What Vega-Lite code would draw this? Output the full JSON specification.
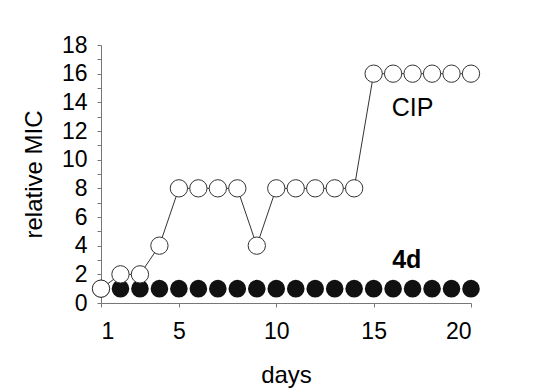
{
  "$schema": "https://vega.github.io/schema/vega-lite/v6.json",
  "width": 370,
  "height": 258,
  "autosize": {"type": "none"},
  "padding": {"left": 101, "top": 45, "right": 71, "bottom": 89},
  "background": "white",
  "config": {
    "view": {"stroke": null},
    "axis": {
      "grid": false,
      "labelFont": "Liberation Sans",
      "titleFont": "Liberation Sans",
      "labelFontSize": 23,
      "titleFontSize": 24,
      "titleFontWeight": "normal",
      "labelColor": "#000",
      "titleColor": "#000",
      "domainColor": "#777",
      "tickColor": "#777",
      "tickSize": 4
    }
  },
  "datasets": {
    "series": [
      {"day": 1, "mic": 1, "series": "4d"},
      {"day": 2, "mic": 1, "series": "4d"},
      {"day": 3, "mic": 1, "series": "4d"},
      {"day": 4, "mic": 1, "series": "4d"},
      {"day": 5, "mic": 1, "series": "4d"},
      {"day": 6, "mic": 1, "series": "4d"},
      {"day": 7, "mic": 1, "series": "4d"},
      {"day": 8, "mic": 1, "series": "4d"},
      {"day": 9, "mic": 1, "series": "4d"},
      {"day": 10, "mic": 1, "series": "4d"},
      {"day": 11, "mic": 1, "series": "4d"},
      {"day": 12, "mic": 1, "series": "4d"},
      {"day": 13, "mic": 1, "series": "4d"},
      {"day": 14, "mic": 1, "series": "4d"},
      {"day": 15, "mic": 1, "series": "4d"},
      {"day": 16, "mic": 1, "series": "4d"},
      {"day": 17, "mic": 1, "series": "4d"},
      {"day": 18, "mic": 1, "series": "4d"},
      {"day": 19, "mic": 1, "series": "4d"},
      {"day": 20, "mic": 1, "series": "4d"},
      {"day": 1, "mic": 1, "series": "CIP"},
      {"day": 2, "mic": 2, "series": "CIP"},
      {"day": 3, "mic": 2, "series": "CIP"},
      {"day": 4, "mic": 4, "series": "CIP"},
      {"day": 5, "mic": 8, "series": "CIP"},
      {"day": 6, "mic": 8, "series": "CIP"},
      {"day": 7, "mic": 8, "series": "CIP"},
      {"day": 8, "mic": 8, "series": "CIP"},
      {"day": 9, "mic": 4, "series": "CIP"},
      {"day": 10, "mic": 8, "series": "CIP"},
      {"day": 11, "mic": 8, "series": "CIP"},
      {"day": 12, "mic": 8, "series": "CIP"},
      {"day": 13, "mic": 8, "series": "CIP"},
      {"day": 14, "mic": 8, "series": "CIP"},
      {"day": 15, "mic": 16, "series": "CIP"},
      {"day": 16, "mic": 16, "series": "CIP"},
      {"day": 17, "mic": 16, "series": "CIP"},
      {"day": 18, "mic": 16, "series": "CIP"},
      {"day": 19, "mic": 16, "series": "CIP"},
      {"day": 20, "mic": 16, "series": "CIP"}
    ],
    "labels": [
      {"label": "CIP", "day": 17.0, "mic": 13.6},
      {"label": "4d", "day": 16.7, "mic": 3.0}
    ]
  },
  "encoding": {
    "x": {
      "field": "day",
      "type": "quantitative",
      "scale": {"domain": [1, 20], "nice": false, "zero": false},
      "axis": {
        "values": [1, 5, 10, 15, 20],
        "title": "days",
        "labelPadding": 13,
        "titlePadding": 20
      }
    },
    "y": {
      "field": "mic",
      "type": "quantitative",
      "scale": {"domain": [0, 18], "nice": false},
      "axis": {
        "values": [0, 1, 2, 3, 4, 5, 6, 7, 8, 9, 10, 11, 12, 13, 14, 15, 16, 17, 18],
        "labelExpr": "datum.value % 2 == 0 ? datum.label : ''",
        "title": "relative MIC",
        "labelPadding": 10,
        "titlePadding": 15
      }
    }
  },
  "layer": [
    {
      "data": {"name": "series"},
      "transform": [{"filter": "datum.series == '4d'"}],
      "mark": {"type": "point", "shape": "circle", "filled": true, "size": 310, "color": "#111", "opacity": 1}
    },
    {
      "data": {"name": "series"},
      "transform": [{"filter": "datum.series == 'CIP'"}],
      "mark": {"type": "line", "color": "#333", "strokeWidth": 1}
    },
    {
      "data": {"name": "series"},
      "transform": [{"filter": "datum.series == 'CIP'"}],
      "mark": {"type": "point", "shape": "circle", "filled": true, "size": 300, "fill": "white", "stroke": "#333", "strokeWidth": 1, "opacity": 1}
    },
    {
      "data": {"name": "labels"},
      "transform": [{"filter": "datum.label == 'CIP'"}],
      "mark": {"type": "text", "font": "Liberation Sans", "fontSize": 25, "color": "#000", "baseline": "middle", "align": "center"},
      "encoding": {"text": {"field": "label"}}
    },
    {
      "data": {"name": "labels"},
      "transform": [{"filter": "datum.label == '4d'"}],
      "mark": {"type": "text", "font": "Liberation Sans", "fontSize": 25, "fontWeight": "bold", "color": "#000", "baseline": "middle", "align": "center"},
      "encoding": {"text": {"field": "label"}}
    }
  ]
}
